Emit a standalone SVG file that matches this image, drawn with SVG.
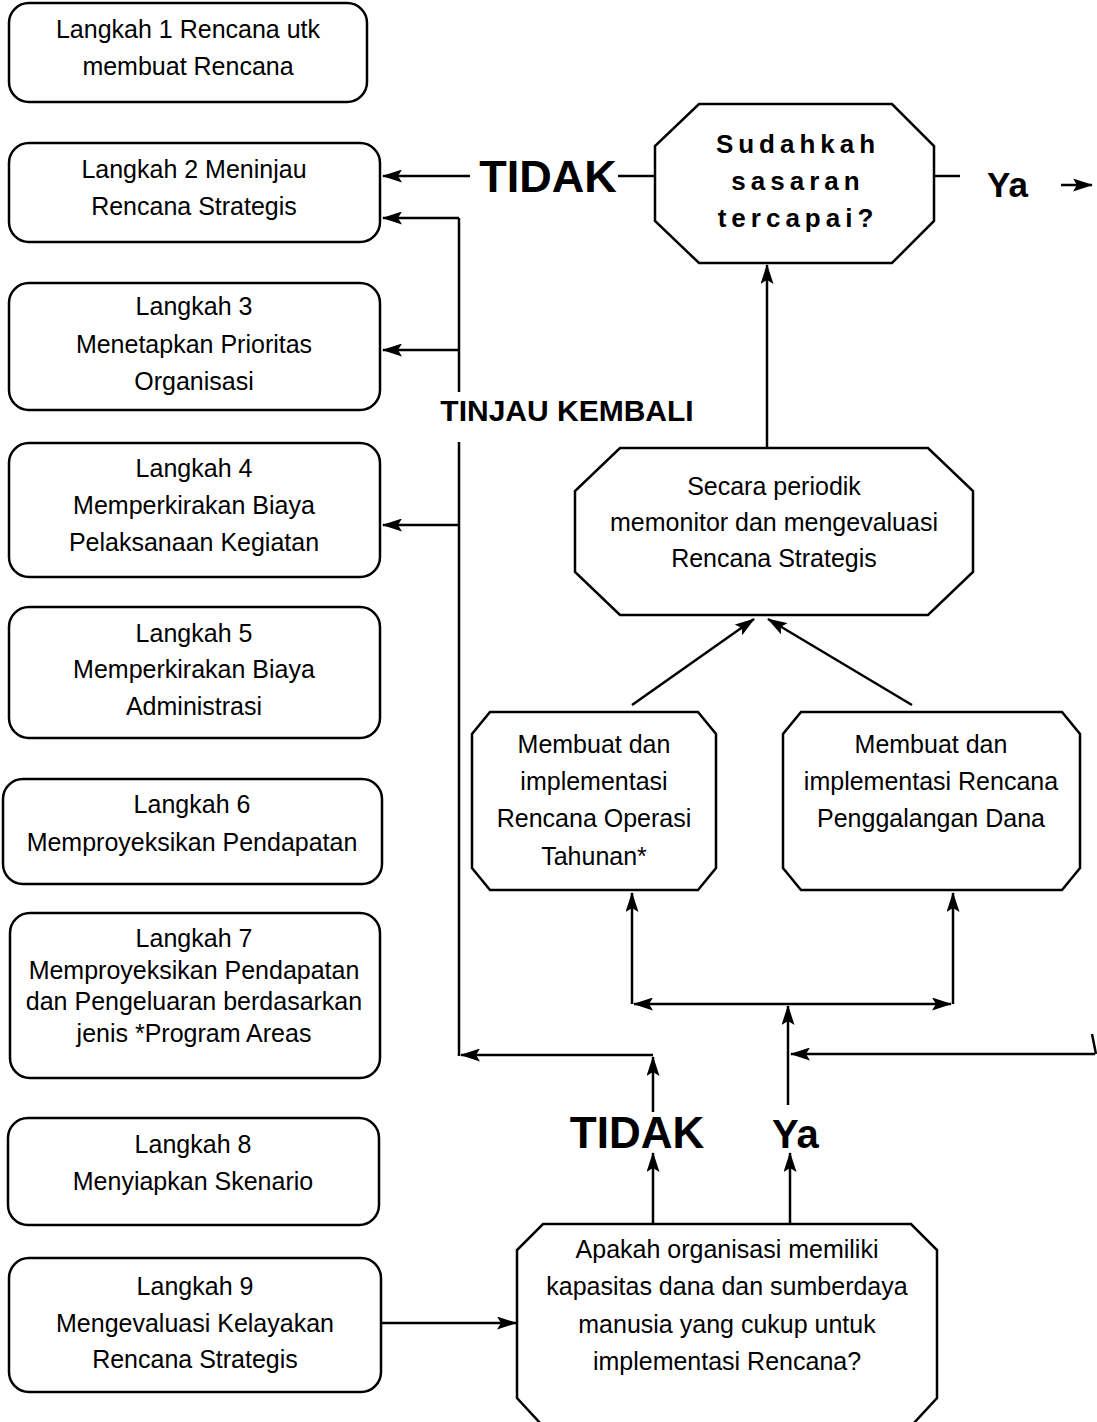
<svg xmlns="http://www.w3.org/2000/svg" width="1097" height="1422" viewBox="0 0 1097 1422">
<style>
.box{fill:#fff;stroke:#000;stroke-width:2.5}
.t{font-family:"Liberation Sans",Arial,sans-serif;font-size:25px;text-anchor:middle;fill:#000}
.b{font-family:"Liberation Sans",Arial,sans-serif;font-weight:bold;fill:#000}
.ln{stroke:#000;stroke-width:2.5;fill:none}
.ar{marker-end:url(#ah)}
</style>
<defs>
<marker id="ah" viewBox="0 0 20 13" refX="19" refY="6.5" markerWidth="20" markerHeight="13" markerUnits="userSpaceOnUse" orient="auto-start-reverse">
<path d="M0,0 L20,6.5 L0,13 L4,6.5 z" fill="#000"/>
</marker>
</defs>
<rect width="1097" height="1422" fill="#fff"/>

<g id="connectors">
<line class="ln ar" x1="470" y1="176" x2="383" y2="176"/>
<line class="ln" x1="618" y1="176" x2="655" y2="176"/>
<line class="ln" x1="934" y1="176" x2="960" y2="176"/>
<line class="ln ar" x1="1061" y1="185" x2="1092" y2="185"/>
<line class="ln ar" x1="767" y1="448" x2="767" y2="265"/>
<line class="ln ar" x1="632" y1="705" x2="754" y2="619"/>
<line class="ln ar" x1="912" y1="705" x2="768" y2="619"/>
<line class="ln ar" x1="632" y1="1004" x2="632" y2="893"/>
<line class="ln ar" x1="953" y1="1004" x2="953" y2="893"/>
<line class="ln ar" x1="634" y1="1004" x2="951" y2="1004" style="marker-start:url(#ah)"/>
<line class="ln ar" x1="788" y1="1105" x2="788" y2="1006"/>
<line class="ln ar" x1="1095" y1="1054" x2="791" y2="1054"/>
<line class="ln" x1="1092" y1="1034" x2="1096" y2="1054"/>
<polyline class="ln" points="459,218 459,392"/>
<polyline class="ln" points="459,442 459,1056"/>
<line class="ln ar" x1="459" y1="218" x2="383" y2="218"/>
<line class="ln ar" x1="459" y1="350" x2="383" y2="350"/>
<line class="ln ar" x1="459" y1="525" x2="383" y2="525"/>
<line class="ln ar" x1="653" y1="1055" x2="461" y2="1055"/>
<line class="ln ar" x1="653" y1="1112" x2="653" y2="1057"/>
<line class="ln ar" x1="653" y1="1224" x2="653" y2="1153"/>
<line class="ln ar" x1="790" y1="1224" x2="790" y2="1153"/>
<line class="ln ar" x1="381" y1="1323" x2="516" y2="1323"/>
</g>

<g id="labels">
<text class="b" x="548" y="192" font-size="45" text-anchor="middle">TIDAK</text>
<text class="b" x="987" y="197" font-size="35">Ya</text>
<text class="b" x="567" y="421" font-size="30" text-anchor="middle">TINJAU KEMBALI</text>
<text class="b" x="637" y="1148" font-size="44" text-anchor="middle">TIDAK</text>
<text class="b" x="772" y="1148" font-size="40">Ya</text>
</g>

<g id="step1"><rect class="box" x="9" y="3" width="358" height="99" rx="20"/>
<text class="t" x="188" y="38">Langkah 1 Rencana utk</text>
<text class="t" x="188" y="75">membuat Rencana</text></g>

<g id="step2"><rect class="box" x="9" y="143" width="371" height="99" rx="20"/>
<text class="t" x="194" y="178">Langkah 2 Meninjau</text>
<text class="t" x="194" y="215">Rencana Strategis</text></g>

<g id="step3"><rect class="box" x="9" y="283" width="371" height="127" rx="20"/>
<text class="t" x="194" y="315">Langkah 3</text>
<text class="t" x="194" y="353">Menetapkan Prioritas</text>
<text class="t" x="194" y="390">Organisasi</text></g>

<g id="step4"><rect class="box" x="9" y="443" width="371" height="134" rx="20"/>
<text class="t" x="194" y="477">Langkah 4</text>
<text class="t" x="194" y="514">Memperkirakan Biaya</text>
<text class="t" x="194" y="551">Pelaksanaan Kegiatan</text></g>

<g id="step5"><rect class="box" x="9" y="607" width="371" height="131" rx="20"/>
<text class="t" x="194" y="642">Langkah 5</text>
<text class="t" x="194" y="678">Memperkirakan Biaya</text>
<text class="t" x="194" y="715">Administrasi</text></g>

<g id="step6"><rect class="box" x="3" y="779" width="379" height="105" rx="20"/>
<text class="t" x="192" y="813">Langkah 6</text>
<text class="t" x="192" y="851">Memproyeksikan Pendapatan</text></g>

<g id="step7"><rect class="box" x="10" y="913" width="370" height="165" rx="20"/>
<text class="t" x="194" y="947" font-size="24.5">Langkah 7</text>
<text class="t" x="194" y="979" font-size="24.5">Memproyeksikan Pendapatan</text>
<text class="t" x="194" y="1010" font-size="24.5">dan Pengeluaran berdasarkan</text>
<text class="t" x="194" y="1042" font-size="24.5">jenis *Program Areas</text></g>

<g id="step8"><rect class="box" x="8" y="1118" width="371" height="107" rx="20"/>
<text class="t" x="193" y="1153">Langkah 8</text>
<text class="t" x="193" y="1190">Menyiapkan Skenario</text></g>

<g id="step9"><rect class="box" x="9" y="1258" width="372" height="134" rx="20"/>
<text class="t" x="195" y="1295">Langkah 9</text>
<text class="t" x="195" y="1332">Mengevaluasi Kelayakan</text>
<text class="t" x="195" y="1368">Rencana Strategis</text></g>

<g id="goal"><polygon class="box" points="699,104 892,104 934,146 934,221 892,263 699,263 655,221 655,146"/>
<text class="b" x="798" y="153" font-size="26" letter-spacing="5" text-anchor="middle">Sudahkah</text>
<text class="b" x="798" y="190" font-size="26" letter-spacing="5" text-anchor="middle">sasaran</text>
<text class="b" x="798" y="227" font-size="26" letter-spacing="5" text-anchor="middle">tercapai?</text></g>

<g id="monitor"><polygon class="box" points="620,448 928,448 973,491 973,572 928,615 620,615 575,572 575,491"/>
<text class="t" x="774" y="495">Secara periodik</text>
<text class="t" x="774" y="531">memonitor dan mengevaluasi</text>
<text class="t" x="774" y="567">Rencana Strategis</text></g>

<g id="operasi"><polygon class="box" points="490,712 698,712 716,734 716,868 698,890 490,890 472,868 472,734"/>
<text class="t" x="594" y="753">Membuat dan</text>
<text class="t" x="594" y="790">implementasi</text>
<text class="t" x="594" y="827">Rencana Operasi</text>
<text class="t" x="594" y="865">Tahunan*</text></g>

<g id="dana"><polygon class="box" points="801,712 1062,712 1080,734 1080,868 1062,890 801,890 783,868 783,734"/>
<text class="t" x="931" y="753">Membuat dan</text>
<text class="t" x="931" y="790">implementasi Rencana</text>
<text class="t" x="931" y="827">Penggalangan Dana</text></g>

<g id="kapasitas"><polygon class="box" points="543,1224 911,1224 937,1250 937,1398 913,1424 541,1424 517,1398 517,1250"/>
<text class="t" x="727" y="1258">Apakah organisasi memiliki</text>
<text class="t" x="727" y="1295">kapasitas dana dan sumberdaya</text>
<text class="t" x="727" y="1333">manusia yang cukup untuk</text>
<text class="t" x="727" y="1370">implementasi Rencana?</text></g>
</svg>
